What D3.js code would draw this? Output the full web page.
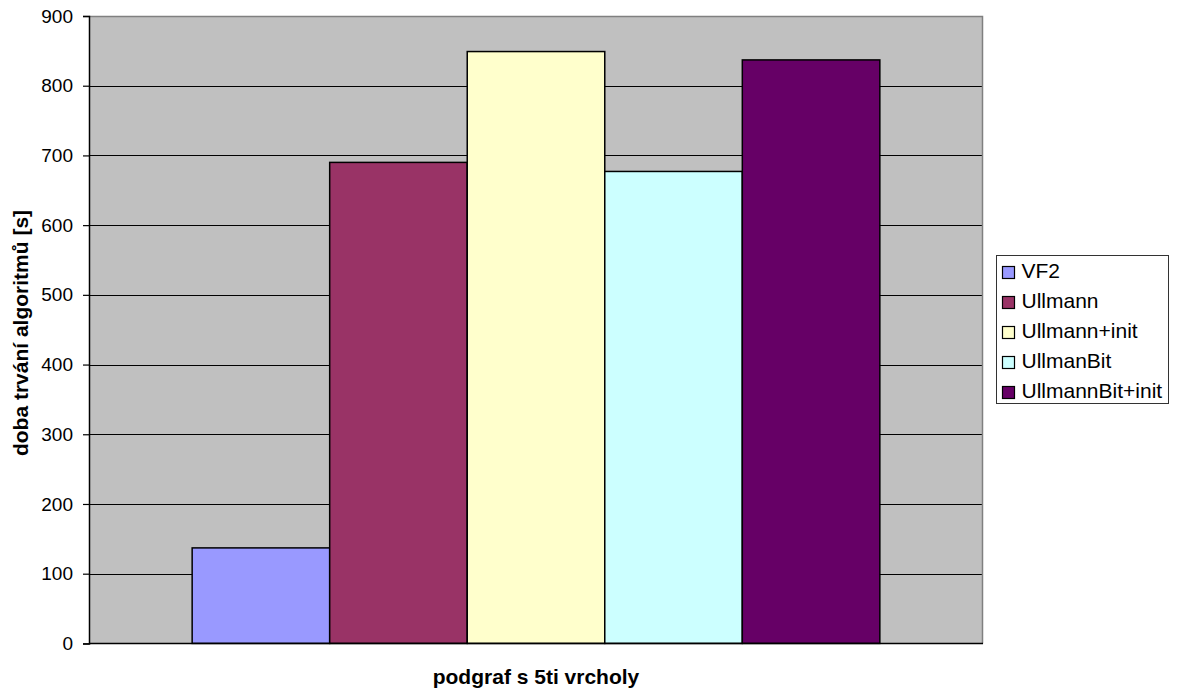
<!DOCTYPE html>
<html>
<head>
<meta charset="utf-8">
<script src="https://cdn.jsdelivr.net/npm/d3@7"></script>
<style>
  html, body { margin: 0; padding: 0; background: #fff; }
  svg { display: block; font-family: "Liberation Sans", Arial, sans-serif; }
</style>
</head>
<body>
<svg id="chart" width="1177" height="695"></svg>
<script>
// Run times of the subgraph-isomorphism algorithms (seconds)
const categories = ["podgraf s 5ti vrcholy"];
const seriesNames = ["VF2", "Ullmann", "Ullmann+init", "UllmanBit", "UllmannBit+init"];
const seriesValues = [137, 690, 849, 677, 837];
const seriesColors = ["#9999FF", "#993366", "#FFFFCC", "#CCFFFF", "#660066"];
const yTicks = [0, 100, 200, 300, 400, 500, 600, 700, 800, 900];

const svg = d3.select("#chart");
const plot = { left: 89, right: 983, top: 16, bottom: 643.4 };

const y = d3.scaleLinear().domain([0, 900]).range([plot.bottom, plot.top]);
const x0 = d3.scaleBand().domain(categories).range([plot.left, plot.right])
  .paddingInner(0).paddingOuter(0.15);
const x1 = d3.scaleBand().domain(seriesNames).range([0, x0.bandwidth()]).padding(0);

// plot area background
svg.append("rect")
  .attr("x", plot.left).attr("y", plot.top)
  .attr("width", plot.right - plot.left).attr("height", plot.bottom - plot.top)
  .attr("fill", "#C0C0C0");

// horizontal gridlines
svg.append("g").selectAll("line").data(yTicks.filter(d => d > 0 && d < 900)).join("line")
  .attr("x1", plot.left).attr("x2", plot.right)
  .attr("y1", d => Math.round(y(d)) + 0.5).attr("y2", d => Math.round(y(d)) + 0.5)
  .attr("stroke", "#000").attr("stroke-width", 1);

// plot border: top and right in grey
svg.append("path")
  .attr("d", `M${plot.left},${Math.round(plot.top) + 0.5}H${plot.right - 0.5}V${plot.bottom}`)
  .attr("fill", "none").attr("stroke", "#808080").attr("stroke-width", 1.5);

// bars
svg.append("g").selectAll("rect")
  .data(seriesValues.map((v, i) => ({ name: seriesNames[i], value: v, color: seriesColors[i], cat: categories[0] })))
  .join("rect")
  .attr("x", d => x0(d.cat) + x1(d.name))
  .attr("width", x1.bandwidth())
  .attr("y", d => y(d.value))
  .attr("height", d => y(0) - y(d.value))
  .attr("fill", d => d.color)
  .attr("stroke", "#000").attr("stroke-width", 1.5);

// y axis
const yAxis = d3.axisLeft(y).tickValues(yTicks).tickSize(6).tickPadding(10);
const gy = svg.append("g").attr("transform", `translate(${plot.left},0)`).call(yAxis);
gy.select(".domain").attr("stroke", "#000").attr("stroke-width", 1.5);
gy.selectAll(".tick line").attr("stroke", "#000").attr("stroke-width", 1.2);
gy.selectAll(".tick text")
  .attr("font-size", 19).attr("fill", "#000")
  .attr("font-family", "Liberation Sans, Arial, sans-serif");

// x baseline
svg.append("line")
  .attr("x1", plot.left).attr("x2", plot.right)
  .attr("y1", y(0)).attr("y2", y(0))
  .attr("stroke", "#000").attr("stroke-width", 1.5);

// axis titles
svg.append("text")
  .attr("x", (plot.left + plot.right) / 2).attr("y", 684)
  .attr("text-anchor", "middle")
  .attr("font-size", 21).attr("font-weight", "bold")
  .text(categories[0]);

svg.append("text")
  .attr("transform", "translate(28,333) rotate(-90)")
  .attr("text-anchor", "middle")
  .attr("font-size", 21).attr("font-weight", "bold")
  .text("doba trvání algoritmů [s]");

// legend
const legend = svg.append("g");
legend.append("rect")
  .attr("x", 996.5).attr("y", 255.5).attr("width", 172).attr("height", 148)
  .attr("fill", "#fff").attr("stroke", "#333").attr("stroke-width", 1);
const items = legend.selectAll("g.item").data(seriesNames).join("g")
  .attr("class", "item")
  .attr("transform", (d, i) => `translate(1002,${266 + i * 30})`);
items.append("rect")
  .attr("x", 0.5).attr("y", 0.5).attr("width", 12).attr("height", 12)
  .attr("fill", (d, i) => seriesColors[i])
  .attr("stroke", "#000").attr("stroke-width", 1.2);
items.append("text")
  .attr("x", 19.5).attr("y", 11.7)
  .attr("font-size", 21).attr("fill", "#000")
  .text(d => d);
</script>
</body>
</html>
